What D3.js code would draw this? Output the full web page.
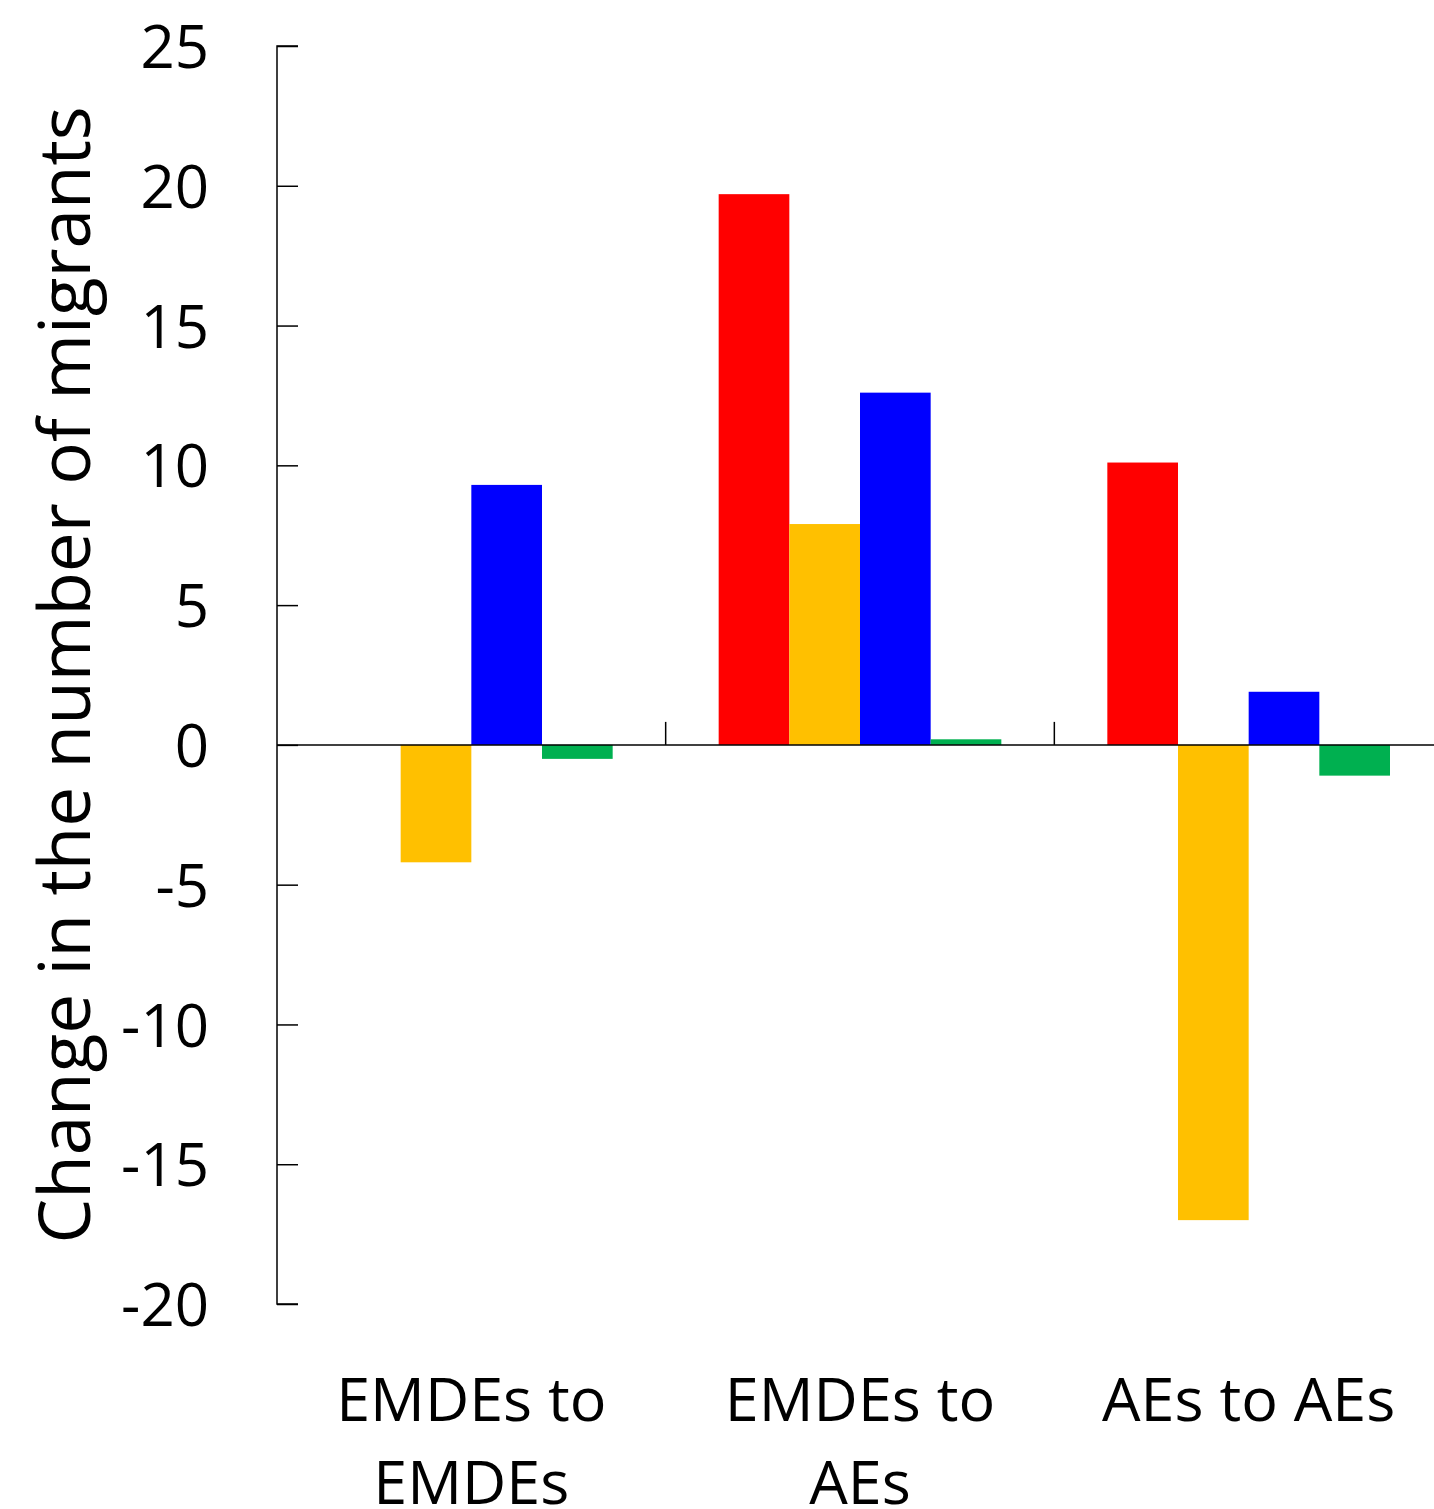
<!DOCTYPE html>
<html>
<head>
<meta charset="utf-8">
<script src="https://cdn.jsdelivr.net/npm/d3@7/dist/d3.min.js"></script>
<style>
  html, body { margin: 0; padding: 0; background: #fff; }
  svg { display: block; }
  svg text { font-family: "Open Sans", "Noto Sans", sans-serif; }
</style>
</head>
<body>
<svg id="chart" width="1434" height="1509"></svg>
<script>
// Corridors (each label split over two lines)
const categories = ["EMDEs to EMDEs", "EMDEs to AEs", "AEs to AEs"];
const categoryLines = [["EMDEs to", "EMDEs"], ["EMDEs to", "AEs"], ["AEs to AEs"]];
const seriesNames = ["s1", "s2", "s3", "s4"];
const seriesColors = ["#FF0000", "#FFC000", "#0000FF", "#00B050"];
// Values per series, one entry per corridor
const series1 = [0.0, 19.7, 10.1];
const series2 = [-4.2, 7.9, -17.0];
const series3 = [9.3, 12.6, 1.9];
const series4 = [-0.5, 0.2, -1.1];
const yTicks = [-20, -15, -10, -5, 0, 5, 10, 15, 20, 25];

const seriesValues = [series1, series2, series3, series4];
const svg = d3.select("#chart");

const plotLeft = 277, plotRight = 1443, plotTop = 46, plotBottom = 1304;
const FONT = '"Open Sans", "Noto Sans", sans-serif';

const y = d3.scaleLinear().domain([-20, 25]).range([plotBottom, plotTop]);
const x0 = d3.scaleBand().domain(categories).range([plotLeft, plotRight]).padding(0);
const x1 = d3.scaleBand().domain(seriesNames)
  .range([0, x0.bandwidth()]).paddingInner(0).paddingOuter(0.75);

// Bars
const groups = svg.append("g").selectAll("g")
  .data(categories)
  .join("g")
  .attr("transform", d => `translate(${x0(d)},0)`);

groups.selectAll("rect")
  .data((c, ci) => seriesNames.map((s, si) => ({ s, v: seriesValues[si][ci], color: seriesColors[si] })))
  .join("rect")
  .attr("x", d => x1(d.s))
  .attr("width", x1.bandwidth())
  .attr("y", d => y(Math.max(0, d.v)))
  .attr("height", d => Math.abs(y(d.v) - y(0)))
  .attr("fill", d => d.color);

// Y axis with inward ticks
const yAxis = d3.axisLeft(y).tickValues(yTicks).tickSize(-21).tickPadding(68)
  .tickFormat(d3.format("d"));
const gy = svg.append("g").attr("transform", `translate(${plotLeft},0)`).call(yAxis);
gy.attr("font-family", FONT).attr("font-size", 60);
gy.select(".domain").attr("stroke", "#000").attr("stroke-width", 1.5)
  .attr("d", `M21,${y(25)}H0V${y(-20)}H21`);
gy.selectAll(".tick line").attr("stroke", "#000").attr("stroke-width", 1.5);
gy.selectAll(".tick text")
  .attr("fill", "#000")
  .attr("dy", "0.36em")
  .text(d => d < 0 ? "-" + Math.abs(d) : d);

// Zero baseline
svg.append("line")
  .attr("x1", plotLeft).attr("x2", 1434)
  .attr("y1", y(0)).attr("y2", y(0))
  .attr("stroke", "#000").attr("stroke-width", 1.5);

// Category separator ticks
svg.append("g").selectAll("line")
  .data(categories.slice(1))
  .join("line")
  .attr("x1", d => x0(d)).attr("x2", d => x0(d))
  .attr("y1", y(0)).attr("y2", y(0) - 23)
  .attr("stroke", "#000").attr("stroke-width", 1.5);

// Category labels
const labels = svg.append("g").selectAll("text")
  .data(categories)
  .join("text")
  .attr("text-anchor", "middle")
  .attr("font-size", 61)
  .attr("fill", "#000");
labels.each(function (d, i) {
  const t = d3.select(this);
  categoryLines[i].forEach((line, li) => {
    t.append("tspan")
      .attr("x", x0(d) + x0.bandwidth() / 2)
      .attr("y", 1421 + li * 83)
      .text(line);
  });
});

// Y axis title
svg.append("text")
  .attr("transform", `translate(90,675) rotate(-90)`)
  .attr("text-anchor", "middle")
  .attr("font-size", 71)
  .attr("fill", "#000")
  .text("Change in the number of migrants");
</script>
</body>
</html>
